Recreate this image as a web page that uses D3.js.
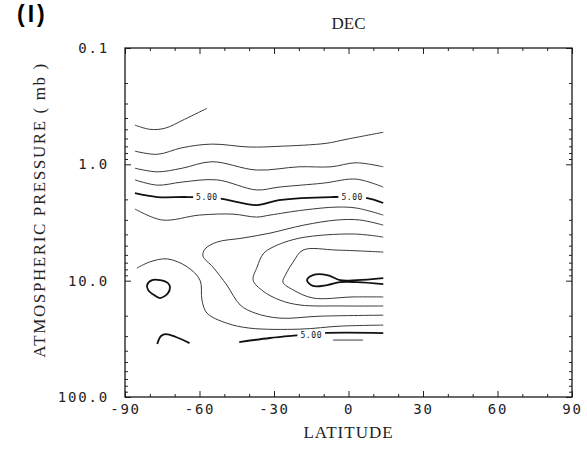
<!DOCTYPE html>
<html>
<head>
<meta charset="utf-8">
<script src="https://cdn.jsdelivr.net/npm/d3@7"></script>
<style>
body { margin: 0; background: #fff; }
.tick text { font-family: "DejaVu Sans Mono", monospace; font-size: 14px; letter-spacing: 1.8px; fill: #222; }
.tick line { stroke: #222; }
.lbl { font-family: "Liberation Serif", serif; font-size: 17px; fill: #222; }
.clabel { font-family: "DejaVu Sans Mono", monospace; font-size: 8px; letter-spacing: 0.6px; fill: #111; }
</style>
</head>
<body>
<svg id="chart" width="587" height="450"></svg>
<script>

// Axis ticks

var latTicks = [-90, -60, -30, 0, 30, 60, 90];
var latMinor = [-80, -70, -50, -40, -20, -10, 10, 20, 40, 50, 70, 80];
var pressTicks = [0.1, 1, 10, 100];
var pressLabels = ["0.1", "1.0", "10.0", "100.0"];

// Contour lines, each point is [latitude, pressure in mb]

var lineA = [[-86, 0.46], [-80, 0.50], [-74, 0.49], [-66, 0.41], [-57, 0.33]];
var lineB = [[-86, 0.77], [-77, 0.82], [-67, 0.72], [-55, 0.67], [-40, 0.71], [-28, 0.70], [-9, 0.66], [-1, 0.61], [14, 0.53]];
var lineC = [[-86, 1.08], [-77, 1.16], [-67, 1.08], [-55, 0.95], [-37, 1.12], [-20, 1.05], [-7, 1.05], [3, 0.97], [14, 1.05]];
var lineD = [[-86, 1.36], [-77, 1.51], [-67, 1.42], [-53, 1.36], [-37, 1.66], [-28, 1.57], [-10, 1.45], [3, 1.34], [14, 1.57]];
var lineE = [[-86, 1.77], [-77, 1.91], [-65, 1.91], [-53, 1.95], [-37, 2.24], [-28, 2.03], [-7, 1.91], [7.5, 1.95], [14, 2.15]];
var lineF = [[-86, 2.42], [-75, 3.01], [-60, 2.73], [-46.5, 2.68], [-37, 2.84], [-31.6, 2.73], [-18, 2.47], [-4.6, 2.33], [3.4, 2.38], [14, 2.73]];
var lineG = [[14, 3.33], [4.6, 3.01], [-4.6, 3.01], [-18, 3.33], [-31.6, 3.90], [-42.5, 4.30], [-53, 4.66], [-57.8, 5.35], [-58.6, 6.14], [-54.6, 7.64], [-49, 10.9], [-43.6, 16.2], [-37.6, 19.0], [-27.6, 21.0], [-11.5, 20.2], [14, 19.8]];
var lineH = [[14, 4.22], [1.8, 3.97], [-19.5, 4.30], [-30.4, 5.14], [-34.4, 5.90], [-36.8, 7.64], [-38.4, 9.9], [-34.4, 12.3], [-27.6, 14.7], [-19.5, 16.2], [-3.4, 16.5], [14, 16.5]];
var lineI = [[14, 5.68], [-4.6, 5.46], [-18.3, 5.46], [-22.3, 6.92], [-25.2, 8.78], [-26.4, 10.3], [-22.3, 12.0], [-14.3, 14.1], [1.8, 13.8], [14, 13.8]];
var lineFish = [[14, 9.5], [3.4, 9.9], [-3.4, 9.9], [-8.6, 8.95], [-14.3, 8.95], [-16.7, 9.9], [-14.3, 11.1], [-8.6, 10.9], [-3.4, 10.3], [3.4, 10.3], [14, 10.7]];
var lineL = [[-85.2, 7.8], [-80, 6.9], [-73, 6.5], [-65, 7.6], [-59.8, 9.9], [-59, 14.7], [-57, 19], [-49, 23.2], [-39.7, 25.6], [-19.5, 26.1], [-3.4, 24.6], [14, 24.1]];
var lineLow5 = [[-44, 33.7], [-31.6, 31.1], [-19.5, 29.4], [-10.3, 28.2], [14, 28.2]];
var lineShort = [[-6.2, 32.4], [5.8, 32.4]];
var lineHook = [[-77, 35], [-75.5, 29.9], [-73.5, 28.8], [-69.5, 30.5], [-64, 34.4]];
var loopLeft = [[-81.1, 10.9], [-79.1, 9.9], [-75.9, 9.9], [-72.7, 10.5], [-71.9, 11.4], [-72.7, 12.8], [-75.9, 14.1], [-78.3, 13.3], [-80.7, 12.0]];

var thinLines = [lineA, lineB, lineC, lineD, lineF, lineG, lineH, lineI, lineL, lineShort];
var heavyLines = [lineE, lineFish, lineLow5, lineHook];
var heavyLoops = [loopLeft];

// Contour labels

var labelLat = [-57, 1.5, -15];
var labelPress = [1.93, 1.93, 29.2];
var labelText = ["5.00", "5.00", "5.00"];

// Chart

var svg = d3.select("#chart");
var plotLeft = 125, plotRight = 572, plotTop = 48, plotBottom = 397;

var x = d3.scaleLinear().domain([-90, 90]).range([plotLeft, plotRight]);
var y = d3.scaleLog().domain([0.1, 100]).range([plotTop, plotBottom]);
var pressMinor = y.ticks().filter(function(d) { return pressTicks.indexOf(d) < 0; });

// axes with ticks pointing inward

svg.append("g")
	.attr("transform", "translate(0," + plotBottom + ")")
	.call(d3.axisBottom(x).tickValues(latTicks).tickSize(-6).tickPadding(7).tickFormat(function(d) { return String(d); }));
svg.append("g")
	.attr("transform", "translate(0," + plotBottom + ")")
	.call(d3.axisBottom(x).tickValues(latMinor).tickSize(-3).tickFormat(""));
svg.append("g")
	.attr("transform", "translate(0," + plotTop + ")")
	.call(d3.axisTop(x).tickValues(latTicks).tickSize(-6).tickFormat(""));
svg.append("g")
	.attr("transform", "translate(0," + plotTop + ")")
	.call(d3.axisTop(x).tickValues(latMinor).tickSize(-3).tickFormat(""));

svg.append("g")
	.attr("transform", "translate(" + plotLeft + ",0)")
	.call(d3.axisLeft(y).tickValues(pressTicks).tickSize(-6).tickPadding(16).tickFormat(function(d, i) { return pressLabels[i]; }));
svg.append("g")
	.attr("transform", "translate(" + plotLeft + ",0)")
	.call(d3.axisLeft(y).tickValues(pressMinor).tickSize(-3).tickFormat(""));
svg.append("g")
	.attr("transform", "translate(" + plotRight + ",0)")
	.call(d3.axisRight(y).tickValues(pressTicks).tickSize(-6).tickFormat(""));
svg.append("g")
	.attr("transform", "translate(" + plotRight + ",0)")
	.call(d3.axisRight(y).tickValues(pressMinor).tickSize(-3).tickFormat(""));

svg.selectAll(".domain").remove();

svg.append("rect")
	.attr("x", plotLeft).attr("y", plotTop)
	.attr("width", plotRight - plotLeft).attr("height", plotBottom - plotTop)
	.attr("fill", "none").attr("stroke", "#1a1a1a").attr("stroke-width", 1.3);

// contours

var line = d3.line()
	.x(function(d) { return x(d[0]); })
	.y(function(d) { return y(d[1]); })
	.curve(d3.curveCatmullRom.alpha(0.5));

var loop = d3.line()
	.x(function(d) { return x(d[0]); })
	.y(function(d) { return y(d[1]); })
	.curve(d3.curveCatmullRomClosed.alpha(0.5));

svg.append("g").selectAll("path").data(thinLines).enter().append("path")
	.attr("d", line).attr("fill", "none").attr("stroke", "#3a3a3a").attr("stroke-width", 1);

svg.append("g").selectAll("path").data(heavyLines).enter().append("path")
	.attr("d", line).attr("fill", "none").attr("stroke", "#111").attr("stroke-width", 1.8);

svg.append("g").selectAll("path").data(heavyLoops).enter().append("path")
	.attr("d", loop).attr("fill", "none").attr("stroke", "#111").attr("stroke-width", 1.8);

// labels cut a gap in the line

for (var i = 0; i < labelText.length; i++) {
	var lx = x(labelLat[i]), ly = y(labelPress[i]);
	var g = svg.append("g");
	var bg = g.append("rect").attr("fill", "#fff");
	var t = g.append("text").attr("class", "clabel")
		.attr("x", lx).attr("y", ly).attr("dy", "0.35em")
		.attr("text-anchor", "middle").text(labelText[i]);
	var bb = t.node().getBBox();
	bg.attr("x", bb.x - 3).attr("y", ly - 4).attr("width", bb.width + 6).attr("height", 8);
}

// titles

svg.append("text").attr("class", "lbl")
	.attr("x", (plotLeft + plotRight) / 2).attr("y", 29)
	.attr("text-anchor", "middle").text("DEC");

svg.append("text").attr("class", "lbl")
	.attr("x", (plotLeft + plotRight) / 2).attr("y", 438)
	.attr("text-anchor", "middle").style("letter-spacing", "1px").text("LATITUDE");

svg.append("text").attr("class", "lbl")
	.attr("transform", "translate(45,210) rotate(-90)")
	.attr("text-anchor", "middle").style("letter-spacing", "1.6px")
	.text("ATMOSPHERIC PRESSURE ( mb )");

svg.append("text")
	.attr("x", 17).attr("y", 22)
	.style("font-family", "Liberation Sans, Arial, sans-serif")
	.style("font-size", "23px").style("font-weight", "bold").style("letter-spacing", "3px")
	.text("(I)");

</script>
</body>
</html>
